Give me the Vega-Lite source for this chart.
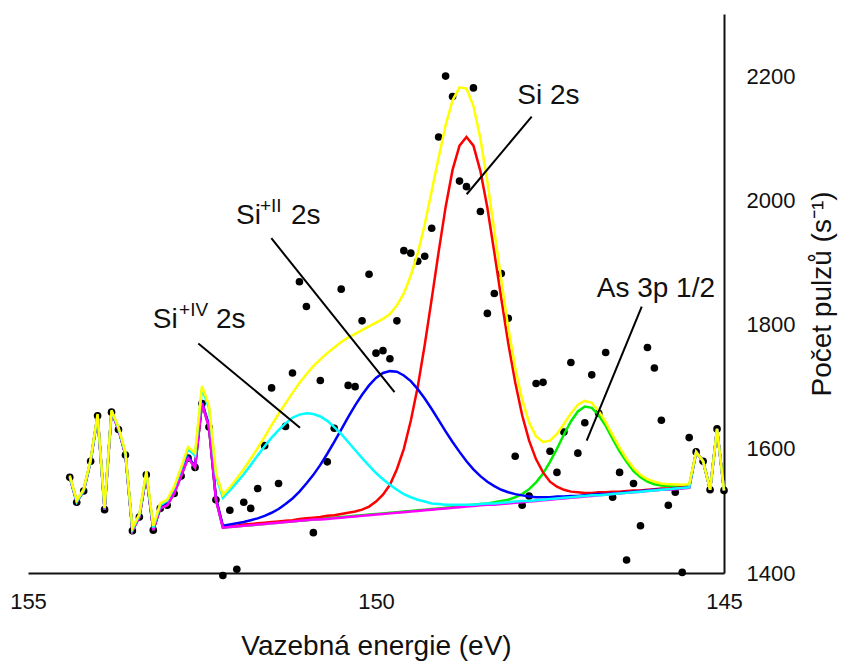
{
  "$schema": "https://vega.github.io/schema/vega-lite/v6.json",
  "width": 696,
  "height": 559,
  "autosize": {"type": "none"},
  "padding": {"left": 28, "top": 14, "right": 123, "bottom": 89},
  "background": "white",
  "config": {
    "view": {"stroke": null},
    "font": "Liberation Sans",
    "axis": {"grid": false, "ticks": false, "domainColor": "#111111", "domainWidth": 2, "labelColor": "#111111", "titleColor": "#111111", "titleFontWeight": "normal", "labelFlush": false}
  },
  "datasets": {
    "spec": [
      {"e": 154.4, "cnt": 1554, "bg": 1554, "si4": 1555, "si2": 1555, "si0": 1555, "as3p": 1554, "env": 1557},
      {"e": 154.3, "cnt": 1514, "bg": 1514, "si4": 1515, "si2": 1515, "si0": 1515, "as3p": 1514, "env": 1517},
      {"e": 154.2, "cnt": 1532, "bg": 1532, "si4": 1533, "si2": 1533, "si0": 1533, "as3p": 1532, "env": 1535},
      {"e": 154.1, "cnt": 1580, "bg": 1580, "si4": 1581, "si2": 1581, "si0": 1581, "as3p": 1580, "env": 1583},
      {"e": 154.0, "cnt": 1653, "bg": 1653, "si4": 1654, "si2": 1654, "si0": 1654, "as3p": 1653, "env": 1656},
      {"e": 153.9, "cnt": 1502, "bg": 1502, "si4": 1504, "si2": 1503, "si0": 1503, "as3p": 1502, "env": 1505},
      {"e": 153.8, "cnt": 1659, "bg": 1659, "si4": 1661, "si2": 1660, "si0": 1660, "as3p": 1659, "env": 1662},
      {"e": 153.7, "cnt": 1631, "bg": 1631, "si4": 1633, "si2": 1632, "si0": 1632, "as3p": 1631, "env": 1635},
      {"e": 153.6, "cnt": 1590, "bg": 1590, "si4": 1592, "si2": 1591, "si0": 1591, "as3p": 1590, "env": 1594},
      {"e": 153.5, "cnt": 1468, "bg": 1468, "si4": 1470, "si2": 1469, "si0": 1469, "as3p": 1468, "env": 1472},
      {"e": 153.4, "cnt": 1490, "bg": 1490, "si4": 1493, "si2": 1491, "si0": 1491, "as3p": 1490, "env": 1495},
      {"e": 153.3, "cnt": 1558, "bg": 1558, "si4": 1561, "si2": 1559, "si0": 1559, "as3p": 1558, "env": 1564},
      {"e": 153.2, "cnt": 1469, "bg": 1469, "si4": 1473, "si2": 1470, "si0": 1470, "as3p": 1469, "env": 1476},
      {"e": 153.1, "cnt": 1504, "bg": 1504, "si4": 1509, "si2": 1505, "si0": 1505, "as3p": 1504, "env": 1512},
      {"e": 153.0, "cnt": 1509, "bg": 1509, "si4": 1516, "si2": 1511, "si0": 1510, "as3p": 1509, "env": 1518},
      {"e": 152.9, "cnt": 1528, "bg": 1528, "si4": 1537, "si2": 1530, "si0": 1529, "as3p": 1528, "env": 1539},
      {"e": 152.8, "cnt": 1556, "bg": 1556, "si4": 1567, "si2": 1558, "si0": 1557, "as3p": 1556, "env": 1570},
      {"e": 152.7, "cnt": 1585, "bg": 1585, "si4": 1600, "si2": 1587, "si0": 1586, "as3p": 1585, "env": 1603},
      {"e": 152.6, "cnt": 1570, "bg": 1570, "si4": 1589, "si2": 1572, "si0": 1571, "as3p": 1570, "env": 1593},
      {"e": 152.5, "cnt": 1673, "bg": 1673, "si4": 1697, "si2": 1675, "si0": 1674, "as3p": 1673, "env": 1701},
      {"e": 152.4, "cnt": 1635, "bg": 1635, "si4": 1666, "si2": 1638, "si0": 1636, "as3p": 1635, "env": 1670},
      {"e": 152.3, "cnt": 1518, "bg": 1518, "si4": 1557, "si2": 1521, "si0": 1519, "as3p": 1518, "env": 1561},
      {"e": 152.2, "cnt": 1396, "bg": 1473, "si4": 1521, "si2": 1476, "si0": 1474, "as3p": 1473, "env": 1526},
      {"e": 152.1, "cnt": 1501, "bg": 1474, "si4": 1533, "si2": 1478, "si0": 1475, "as3p": 1474, "env": 1538},
      {"e": 152.0, "cnt": 1406, "bg": 1475, "si4": 1546, "si2": 1480, "si0": 1476, "as3p": 1475, "env": 1552},
      {"e": 151.9, "cnt": 1514, "bg": 1476, "si4": 1559, "si2": 1482, "si0": 1478, "as3p": 1476, "env": 1567},
      {"e": 151.8, "cnt": 1504, "bg": 1477, "si4": 1574, "si2": 1485, "si0": 1479, "as3p": 1477, "env": 1584},
      {"e": 151.7, "cnt": 1536, "bg": 1478, "si4": 1589, "si2": 1488, "si0": 1480, "as3p": 1478, "env": 1601},
      {"e": 151.6, "cnt": 1605, "bg": 1479, "si4": 1604, "si2": 1492, "si0": 1481, "as3p": 1479, "env": 1619},
      {"e": 151.5, "cnt": 1698, "bg": 1480, "si4": 1618, "si2": 1497, "si0": 1482, "as3p": 1480, "env": 1638},
      {"e": 151.4, "cnt": 1544, "bg": 1481, "si4": 1630, "si2": 1503, "si0": 1483, "as3p": 1481, "env": 1656},
      {"e": 151.3, "cnt": 1636, "bg": 1482, "si4": 1641, "si2": 1511, "si0": 1484, "as3p": 1482, "env": 1673},
      {"e": 151.2, "cnt": 1722, "bg": 1483, "si4": 1650, "si2": 1520, "si0": 1485, "as3p": 1483, "env": 1690},
      {"e": 151.1, "cnt": 1869, "bg": 1484, "si4": 1655, "si2": 1531, "si0": 1487, "as3p": 1484, "env": 1706},
      {"e": 151.0, "cnt": 1829, "bg": 1485, "si4": 1657, "si2": 1544, "si0": 1488, "as3p": 1485, "env": 1720},
      {"e": 150.9, "cnt": 1465, "bg": 1486, "si4": 1656, "si2": 1558, "si0": 1489, "as3p": 1486, "env": 1733},
      {"e": 150.8, "cnt": 1710, "bg": 1486, "si4": 1652, "si2": 1574, "si0": 1490, "as3p": 1487, "env": 1744},
      {"e": 150.7, "cnt": 1579, "bg": 1487, "si4": 1645, "si2": 1592, "si0": 1492, "as3p": 1488, "env": 1754},
      {"e": 150.6, "cnt": 1633, "bg": 1488, "si4": 1635, "si2": 1611, "si0": 1493, "as3p": 1489, "env": 1763},
      {"e": 150.5, "cnt": 1857, "bg": 1489, "si4": 1624, "si2": 1631, "si0": 1495, "as3p": 1490, "env": 1772},
      {"e": 150.4, "cnt": 1702, "bg": 1490, "si4": 1611, "si2": 1651, "si0": 1497, "as3p": 1491, "env": 1779},
      {"e": 150.3, "cnt": 1700, "bg": 1491, "si4": 1598, "si2": 1670, "si0": 1499, "as3p": 1492, "env": 1785},
      {"e": 150.2, "cnt": 1806, "bg": 1492, "si4": 1585, "si2": 1687, "si0": 1502, "as3p": 1493, "env": 1791},
      {"e": 150.1, "cnt": 1881, "bg": 1493, "si4": 1573, "si2": 1702, "si0": 1507, "as3p": 1494, "env": 1797},
      {"e": 150.0, "cnt": 1754, "bg": 1494, "si4": 1561, "si2": 1714, "si0": 1515, "as3p": 1495, "env": 1803},
      {"e": 149.9, "cnt": 1758, "bg": 1495, "si4": 1551, "si2": 1722, "si0": 1526, "as3p": 1496, "env": 1809},
      {"e": 149.8, "cnt": 1745, "bg": 1496, "si4": 1542, "si2": 1725, "si0": 1542, "as3p": 1497, "env": 1817},
      {"e": 149.7, "cnt": 1806, "bg": 1497, "si4": 1534, "si2": 1724, "si0": 1567, "as3p": 1498, "env": 1831},
      {"e": 149.6, "cnt": 1919, "bg": 1498, "si4": 1527, "si2": 1718, "si0": 1600, "as3p": 1499, "env": 1850},
      {"e": 149.5, "cnt": 1915, "bg": 1499, "si4": 1522, "si2": 1709, "si0": 1645, "as3p": 1500, "env": 1879},
      {"e": 149.4, "cnt": 1902, "bg": 1500, "si4": 1518, "si2": 1696, "si0": 1700, "as3p": 1501, "env": 1915},
      {"e": 149.3, "cnt": 1910, "bg": 1501, "si4": 1515, "si2": 1681, "si0": 1767, "as3p": 1502, "env": 1961},
      {"e": 149.2, "cnt": 1955, "bg": 1502, "si4": 1512, "si2": 1664, "si0": 1841, "as3p": 1503, "env": 2015},
      {"e": 149.1, "cnt": 2102, "bg": 1503, "si4": 1511, "si2": 1646, "si0": 1917, "as3p": 1504, "env": 2069},
      {"e": 149.0, "cnt": 2200, "bg": 1504, "si4": 1510, "si2": 1628, "si0": 1989, "as3p": 1505, "env": 2121},
      {"e": 148.9, "cnt": 2167, "bg": 1505, "si4": 1510, "si2": 1611, "si0": 2049, "as3p": 1506, "env": 2161},
      {"e": 148.8, "cnt": 2031, "bg": 1506, "si4": 1510, "si2": 1595, "si0": 2088, "as3p": 1507, "env": 2182},
      {"e": 148.7, "cnt": 2022, "bg": 1507, "si4": 1510, "si2": 1580, "si0": 2102, "as3p": 1509, "env": 2180},
      {"e": 148.6, "cnt": 2181, "bg": 1508, "si4": 1510, "si2": 1567, "si0": 2088, "as3p": 1510, "env": 2152},
      {"e": 148.5, "cnt": 1982, "bg": 1509, "si4": 1511, "si2": 1556, "si0": 2047, "as3p": 1511, "env": 2099},
      {"e": 148.4, "cnt": 1818, "bg": 1510, "si4": 1512, "si2": 1547, "si0": 1988, "as3p": 1512, "env": 2030},
      {"e": 148.3, "cnt": 1850, "bg": 1510, "si4": 1512, "si2": 1540, "si0": 1916, "as3p": 1514, "env": 1951},
      {"e": 148.2, "cnt": 1882, "bg": 1511, "si4": 1513, "si2": 1534, "si0": 1842, "as3p": 1516, "env": 1872},
      {"e": 148.1, "cnt": 1810, "bg": 1512, "si4": 1514, "si2": 1530, "si0": 1770, "as3p": 1518, "env": 1795},
      {"e": 148.0, "cnt": 1588, "bg": 1513, "si4": 1515, "si2": 1527, "si0": 1707, "as3p": 1522, "env": 1731},
      {"e": 147.9, "cnt": 1509, "bg": 1514, "si4": 1516, "si2": 1525, "si0": 1654, "as3p": 1527, "env": 1679},
      {"e": 147.8, "cnt": 1524, "bg": 1515, "si4": 1516, "si2": 1523, "si0": 1613, "as3p": 1535, "env": 1642},
      {"e": 147.7, "cnt": 1705, "bg": 1516, "si4": 1517, "si2": 1522, "si0": 1583, "as3p": 1546, "env": 1620},
      {"e": 147.6, "cnt": 1707, "bg": 1517, "si4": 1518, "si2": 1522, "si0": 1562, "as3p": 1560, "env": 1611},
      {"e": 147.5, "cnt": 1596, "bg": 1518, "si4": 1519, "si2": 1522, "si0": 1547, "as3p": 1579, "env": 1613},
      {"e": 147.4, "cnt": 1562, "bg": 1519, "si4": 1520, "si2": 1523, "si0": 1539, "as3p": 1600, "env": 1624},
      {"e": 147.3, "cnt": 1627, "bg": 1520, "si4": 1521, "si2": 1523, "si0": 1534, "as3p": 1623, "env": 1640},
      {"e": 147.2, "cnt": 1739, "bg": 1521, "si4": 1522, "si2": 1524, "si0": 1531, "as3p": 1644, "env": 1657},
      {"e": 147.1, "cnt": 1593, "bg": 1522, "si4": 1523, "si2": 1524, "si0": 1530, "as3p": 1660, "env": 1671},
      {"e": 147.0, "cnt": 1642, "bg": 1523, "si4": 1524, "si2": 1525, "si0": 1529, "as3p": 1668, "env": 1677},
      {"e": 146.9, "cnt": 1719, "bg": 1524, "si4": 1525, "si2": 1526, "si0": 1529, "as3p": 1666, "env": 1674},
      {"e": 146.8, "cnt": 1657, "bg": 1525, "si4": 1525, "si2": 1527, "si0": 1530, "as3p": 1654, "env": 1661},
      {"e": 146.7, "cnt": 1755, "bg": 1526, "si4": 1526, "si2": 1527, "si0": 1530, "as3p": 1637, "env": 1643},
      {"e": 146.6, "cnt": 1522, "bg": 1527, "si4": 1527, "si2": 1528, "si0": 1531, "as3p": 1616, "env": 1622},
      {"e": 146.5, "cnt": 1562, "bg": 1528, "si4": 1528, "si2": 1529, "si0": 1531, "as3p": 1596, "env": 1602},
      {"e": 146.4, "cnt": 1421, "bg": 1529, "si4": 1529, "si2": 1530, "si0": 1532, "as3p": 1579, "env": 1584},
      {"e": 146.3, "cnt": 1544, "bg": 1530, "si4": 1530, "si2": 1531, "si0": 1533, "as3p": 1564, "env": 1569},
      {"e": 146.2, "cnt": 1476, "bg": 1531, "si4": 1531, "si2": 1532, "si0": 1533, "as3p": 1554, "env": 1558},
      {"e": 146.1, "cnt": 1763, "bg": 1532, "si4": 1532, "si2": 1533, "si0": 1534, "as3p": 1547, "env": 1551},
      {"e": 146.0, "cnt": 1730, "bg": 1533, "si4": 1533, "si2": 1534, "si0": 1535, "as3p": 1543, "env": 1547},
      {"e": 145.9, "cnt": 1646, "bg": 1534, "si4": 1534, "si2": 1534, "si0": 1536, "as3p": 1541, "env": 1544},
      {"e": 145.8, "cnt": 1509, "bg": 1534, "si4": 1535, "si2": 1535, "si0": 1536, "as3p": 1540, "env": 1543},
      {"e": 145.7, "cnt": 1530, "bg": 1535, "si4": 1536, "si2": 1536, "si0": 1537, "as3p": 1539, "env": 1543},
      {"e": 145.6, "cnt": 1401, "bg": 1536, "si4": 1537, "si2": 1537, "si0": 1538, "as3p": 1539, "env": 1542},
      {"e": 145.5, "cnt": 1618, "bg": 1537, "si4": 1538, "si2": 1538, "si0": 1539, "as3p": 1540, "env": 1543},
      {"e": 145.4, "cnt": 1595, "bg": 1595, "si4": 1595, "si2": 1595, "si0": 1595, "as3p": 1595, "env": 1595},
      {"e": 145.3, "cnt": 1580, "bg": 1580, "si4": 1580, "si2": 1580, "si0": 1580, "as3p": 1580, "env": 1580},
      {"e": 145.2, "cnt": 1534, "bg": 1534, "si4": 1534, "si2": 1534, "si0": 1534, "as3p": 1534, "env": 1534},
      {"e": 145.1, "cnt": 1632, "bg": 1632, "si4": 1632, "si2": 1632, "si0": 1632, "as3p": 1632, "env": 1632},
      {"e": 145.0, "cnt": 1533, "bg": 1533, "si4": 1533, "si2": 1533, "si0": 1533, "as3p": 1533, "env": 1533}
    ],
    "leaders": [
      {"e1": 152.553, "c1": 1769.6, "e2": 151.092, "c2": 1633.8},
      {"e1": 151.504, "c1": 1939.0, "e2": 149.734, "c2": 1691.2},
      {"e1": 147.763, "c1": 2134.8, "e2": 148.697, "c2": 2009.8},
      {"e1": 146.182, "c1": 1828.8, "e2": 146.973, "c2": 1613.2}
    ],
    "labels": [
      {"e": 153.208, "c": 1793.7, "t": "Si", "k": "main"},
      {"e": 152.830, "c": 1813.5, "t": "+IV", "k": "sup"},
      {"e": 152.299, "c": 1793.7, "t": "2s", "k": "main"},
      {"e": 152.011, "c": 1962.3, "t": "Si", "k": "main"},
      {"e": 151.667, "c": 1980.9, "t": "+II", "k": "sup"},
      {"e": 151.221, "c": 1962.3, "t": "2s", "k": "main"},
      {"e": 147.970, "c": 2154.6, "t": "Si 2s", "k": "main"},
      {"e": 146.829, "c": 1843.6, "t": "As 3p 1/2", "k": "main"}
    ]
  },
  "data": {"name": "spec"},
  "encoding": {
    "x": {
      "field": "e", "type": "quantitative",
      "scale": {"domain": [145, 155], "reverse": true, "nice": false, "zero": false},
      "axis": {"values": [155, 150, 145], "labelFontSize": 22, "labelPadding": 18, "title": "Vazebná energie (eV)", "titleFontSize": 28, "titlePadding": 20}
    }
  },
  "layer": [
    {
      "mark": {"type": "point", "filled": true, "color": "black", "opacity": 1, "size": 58},
      "encoding": {
        "y": {
          "field": "cnt", "type": "quantitative",
          "scale": {"domain": [1400, 2300], "nice": false, "zero": false},
          "axis": {"orient": "right", "values": [1400, 1600, 1800, 2000, 2200], "format": "d", "labelFontSize": 22, "labelPadding": 22, "title": "Počet pulzů (s⁻¹)", "titleFontSize": 28, "titleAngle": 270, "titleBaseline": "top", "titlePadding": 14}
        }
      }
    },
    {"mark": {"type": "line", "color": "#00EE00", "strokeWidth": 2.5}, "encoding": {"y": {"field": "as3p", "type": "quantitative"}}},
    {"mark": {"type": "line", "color": "#FF0000", "strokeWidth": 2.5}, "encoding": {"y": {"field": "si0", "type": "quantitative"}}},
    {"mark": {"type": "line", "color": "#0000FF", "strokeWidth": 2.5}, "encoding": {"y": {"field": "si2", "type": "quantitative"}}},
    {"mark": {"type": "line", "color": "#FF00FF", "strokeWidth": 2.5}, "encoding": {"y": {"field": "bg", "type": "quantitative"}}},
    {"mark": {"type": "line", "color": "#00FFFF", "strokeWidth": 2.5}, "encoding": {"y": {"field": "si4", "type": "quantitative"}}},
    {"mark": {"type": "line", "color": "#FFFF00", "strokeWidth": 2.5}, "encoding": {"y": {"field": "env", "type": "quantitative"}}},
    {
      "data": {"name": "leaders"},
      "mark": {"type": "rule", "color": "black", "strokeWidth": 2},
      "encoding": {
        "x": {"field": "e1", "type": "quantitative"},
        "x2": {"field": "e2"},
        "y": {"field": "c1", "type": "quantitative"},
        "y2": {"field": "c2"}
      }
    },
    {
      "data": {"name": "labels"},
      "transform": [{"filter": "datum.k == 'main'"}],
      "mark": {"type": "text", "align": "left", "baseline": "alphabetic", "fontSize": 28, "color": "#111111"},
      "encoding": {
        "x": {"field": "e", "type": "quantitative"},
        "y": {"field": "c", "type": "quantitative"},
        "text": {"field": "t"}
      }
    },
    {
      "data": {"name": "labels"},
      "transform": [{"filter": "datum.k == 'sup'"}],
      "mark": {"type": "text", "align": "left", "baseline": "alphabetic", "fontSize": 19, "color": "#111111"},
      "encoding": {
        "x": {"field": "e", "type": "quantitative"},
        "y": {"field": "c", "type": "quantitative"},
        "text": {"field": "t"}
      }
    }
  ]
}
